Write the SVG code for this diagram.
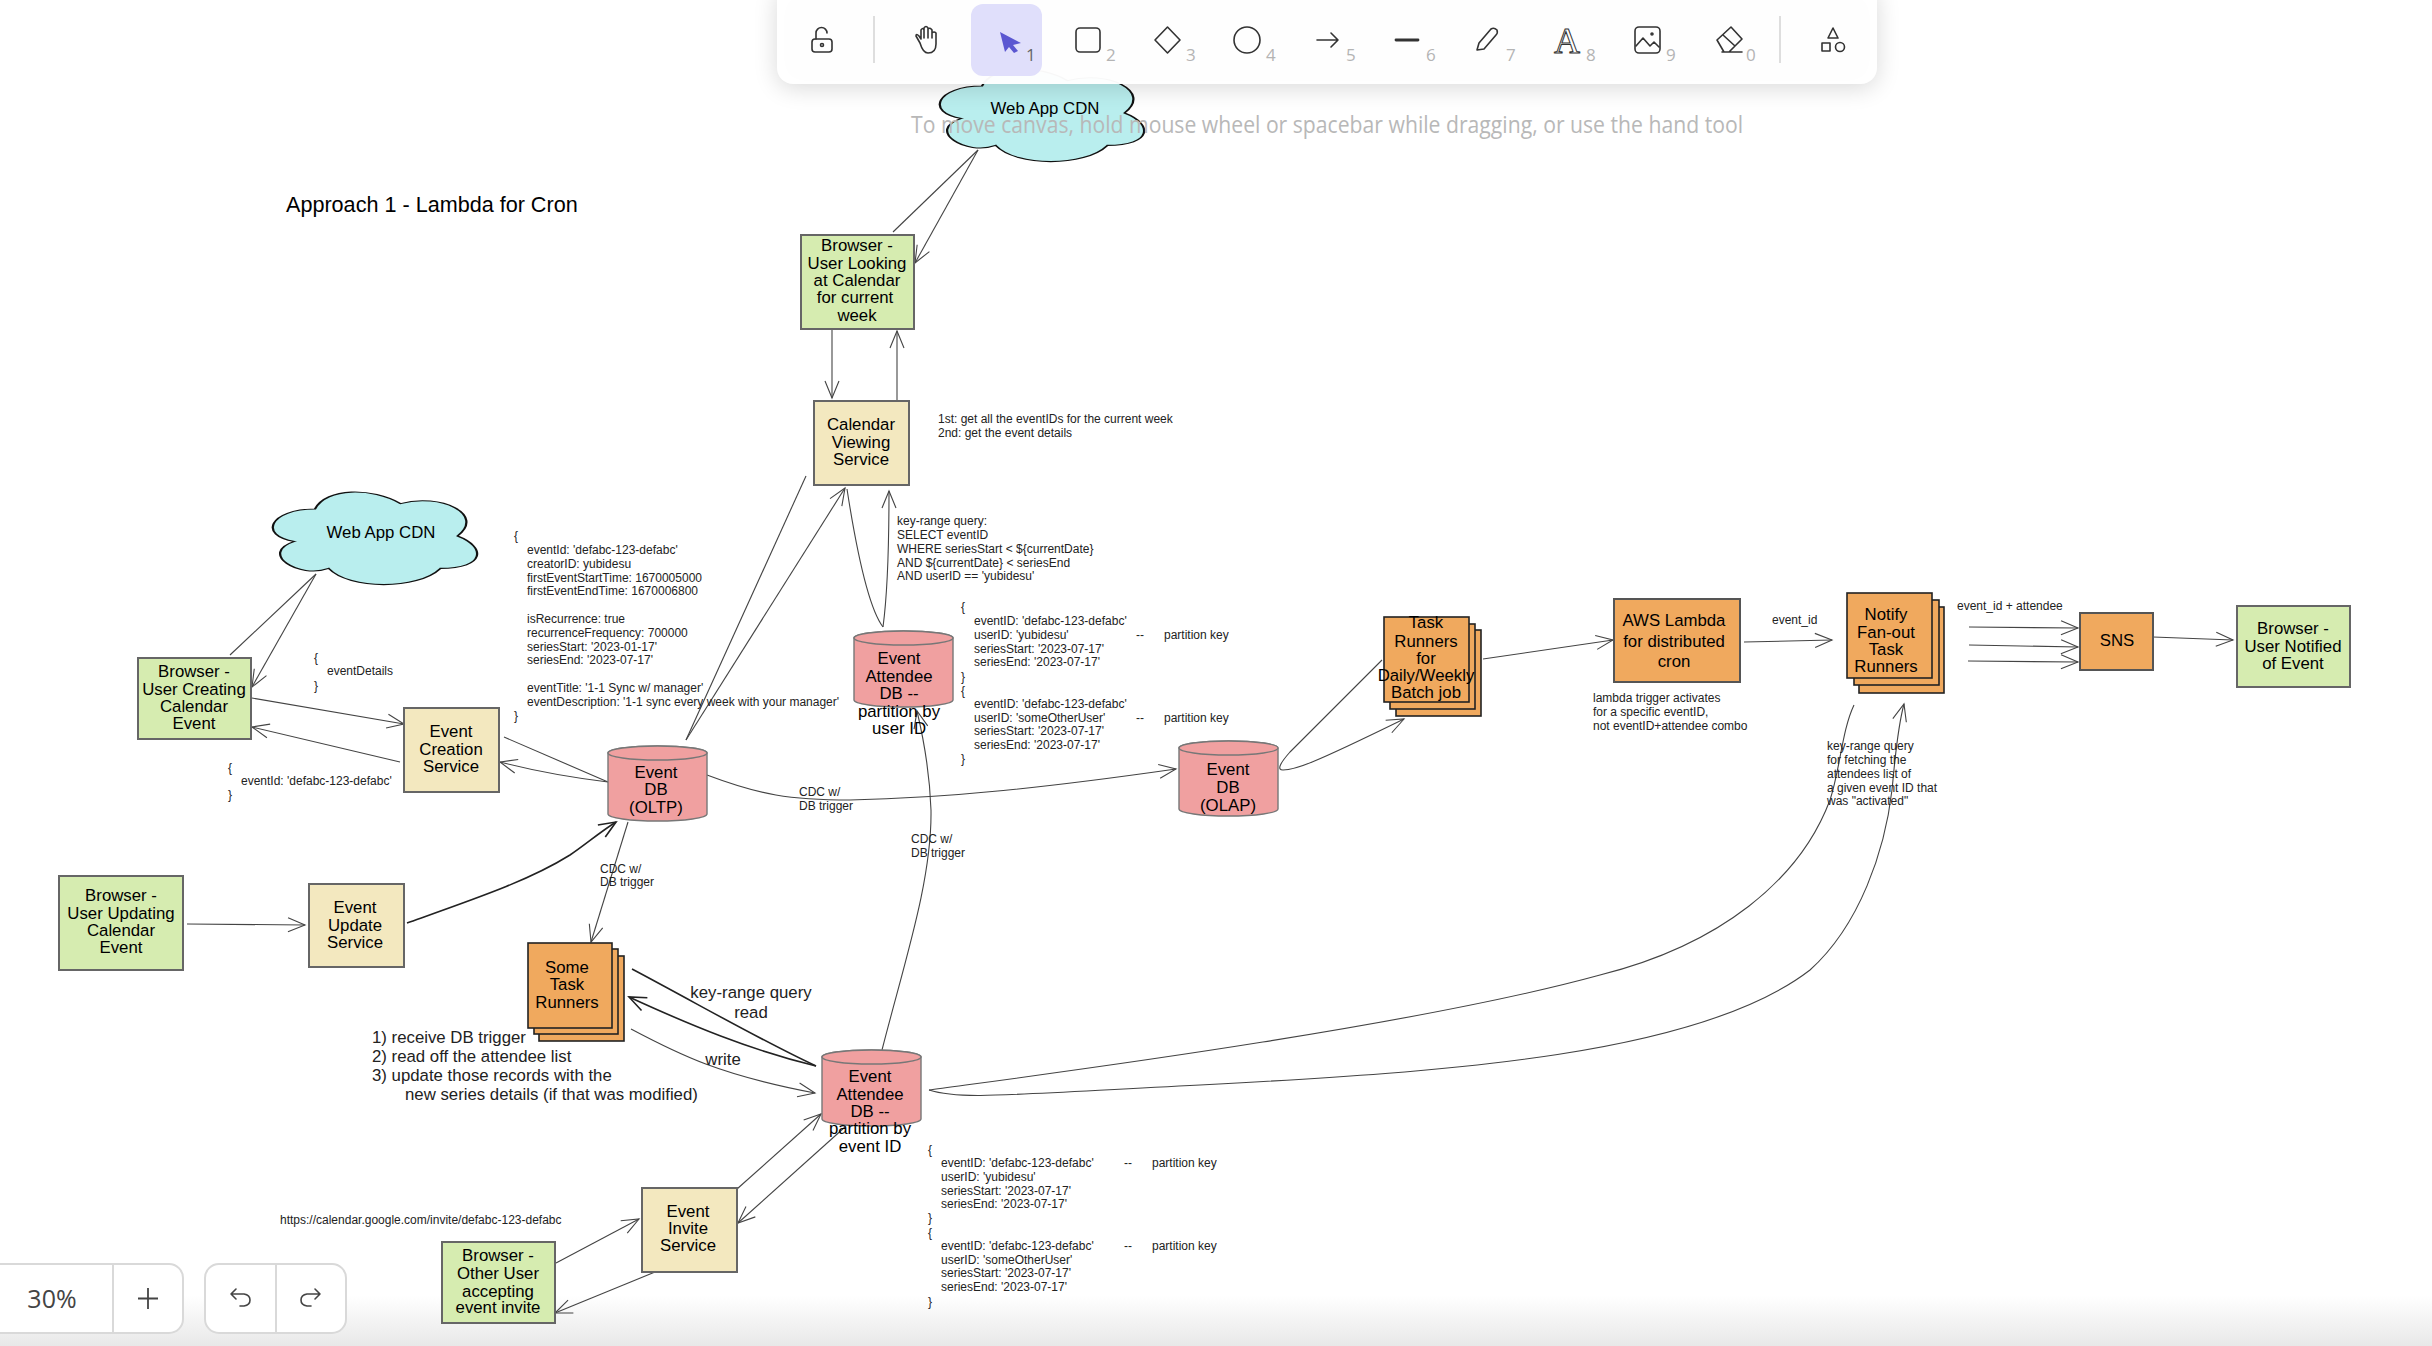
<svg xmlns="http://www.w3.org/2000/svg" width="2432" height="1346" viewBox="0 0 2432 1346">
<style>
text{font-family:"Liberation Sans",Arial,sans-serif}
.n{font-size:16.8px;fill:#000;text-anchor:middle}
.m{font-size:16.8px;fill:#222}
.mc{font-size:16.8px;fill:#222;text-anchor:middle}
.s{font-size:12px;fill:#222}
.g{fill:#d6ecb0;stroke:#666;stroke-width:2}
.c{fill:#f3e8bf;stroke:#666;stroke-width:2}
.o{fill:#f0a95e;stroke:#555;stroke-width:2}
.st{fill:#f0a95e;stroke:#222;stroke-width:1.6}
.p{fill:#f0a0a0;stroke:#777;stroke-width:1.4}
.cl{fill:#b9eeee;stroke:#111;stroke-width:1;vector-effect:non-scaling-stroke}
.l{fill:none;stroke:#444;stroke-width:1.1;marker-end:url(#a)}
.b{fill:none;stroke:#444;stroke-width:1.1}
.t{fill:none;stroke:#222;stroke-width:1.6}
.ic{fill:none;stroke:#333;stroke-width:1.6;stroke-linejoin:round;stroke-linecap:round}
.d{font-family:"Open Sans",sans-serif;font-size:17px;fill:#b4b4b4}
.ui{fill:#fff;stroke:#d9d9d9;stroke-width:2}
</style>
<defs>
<marker id="a" markerUnits="userSpaceOnUse" markerWidth="22" markerHeight="20" refX="18" refY="8" orient="auto"><path d="M1 1 L18 8 L1 15" fill="none" stroke="#444" stroke-width="1.1"/></marker>
<marker id="a2" markerUnits="userSpaceOnUse" markerWidth="22" markerHeight="20" refX="18" refY="8" orient="auto"><path d="M1 1 L18 8 L1 15" fill="none" stroke="#222" stroke-width="1.6"/></marker>
<path id="cloud" d="M25 25C5 25 0 50 16 55C0 66 18 90 31 80C40 100 70 100 80 80C100 80 100 60 87.5 50C100 30 80 10 62.5 20C50 5 30 5 25 25Z"/>
<linearGradient id="fade" x1="0" y1="0" x2="0" y2="1"><stop offset="0" stop-color="#e8e8e8" stop-opacity="0"/><stop offset="1" stop-color="#e8e8e8"/></linearGradient>
<filter id="sh" x="-5%" y="-50%" width="110%" height="220%"><feGaussianBlur stdDeviation="12"/></filter>
</defs>
<rect width="2432" height="1346" fill="#fff"/>
<rect id="bottom-fade" x="0" y="1296" width="2432" height="50" fill="url(#fade)"/>

<g id="title"><text x="286" y="212" font-size="21.6" fill="#000">Approach 1 - Lambda for Cron</text></g>

<g id="connectors">
<path class="b" d="M893 232L978 150"/><path class="l" d="M978 150L915 263"/>
<path class="l" d="M832 329V398"/><path class="l" d="M897 401V331"/>
<path class="b" d="M230 655L316 574"/><path class="l" d="M316 574L252 687"/>
<path class="l" d="M252 698L404 724"/><path class="l" d="M400 762L252 727"/>
<path class="b" d="M504 737L608 782"/><path class="l" d="M608 782Q550 775 500 762"/>
<path class="b" d="M686 740L806 476"/><path class="l" d="M686 740L845 488"/>
<path class="b" d="M847 489C858 560 870 610 883 627"/><path class="l" d="M883 627C888 590 889 540 889 491"/>
<path class="l" d="M707 775C760 795 790 800 850 800C950 798 1050 787 1176 769"/>
<path class="l" d="M882 1050C905 960 932 880 931 810C930 780 925 745 917 711"/>
<path class="l" d="M628 822L591 942"/>
<path class="t" style="marker-end:url(#a2)" d="M407 923C480 897 530 880 570 855C585 845 600 832 616 822"/>
<path class="l" d="M187 924L305 925"/>
<path class="t" d="M632 969C700 1005 760 1040 816 1066"/>
<path class="t" style="marker-end:url(#a2)" d="M816 1066C750 1050 690 1025 629 997"/>
<path class="l" d="M631 1029C680 1055 720 1075 815 1093"/>
<path class="l" d="M556 1263L639 1219"/><path class="l" d="M655 1272L555 1313"/>
<path class="l" d="M737 1189L821 1114"/><path class="l" d="M845 1127L738 1223"/>
<path class="b" d="M929 1090C1000 1080 1400 1030 1600 975C1720 945 1800 880 1830 800C1840 770 1842 730 1854 705"/>
<path class="l" d="M929 1090C960 1100 1000 1095 1200 1085C1450 1072 1700 1055 1810 970C1860 925 1885 850 1892 790C1895 760 1897 730 1904 704"/>
<path class="b" d="M1382 660L1290 752Q1274 770 1283 770"/><path class="l" d="M1283 770C1295 770 1310 765 1404 719"/>
<path class="l" d="M1483 659L1613 640"/><path class="l" d="M1744 642L1832 640"/>
<path class="l" d="M1969 627L2078 628"/><path class="l" d="M1969 645L2078 647"/><path class="l" d="M1968 661L2078 662"/>
<path class="l" d="M2153 637L2233 640"/>
</g>

<g id="cloud-top"><use href="#cloud" class="cl" transform="translate(925 59) scale(2.28 1.08)"/><text x="1045" y="114" class="n">Web App CDN</text></g>
<g id="cloud-left"><use href="#cloud" class="cl" transform="translate(258 482) scale(2.28 1.08)"/><text x="381" y="538" class="n">Web App CDN</text></g>

<g id="browser-looking"><rect class="g" x="801" y="235" width="113" height="94"/><text class="n"><tspan x="857" y="251">Browser -</tspan><tspan x="857" y="269">User Looking</tspan><tspan x="857" y="286">at Calendar</tspan><tspan x="855" y="303">for current</tspan><tspan x="857" y="321">week</tspan></text></g>
<g id="calendar-viewing"><rect class="c" x="814" y="401" width="95" height="84"/><text class="n"><tspan x="861" y="430">Calendar</tspan><tspan x="861" y="448">Viewing</tspan><tspan x="861" y="465">Service</tspan></text></g>
<g id="browser-creating"><rect class="g" x="138" y="658" width="113" height="81"/><text class="n"><tspan x="194" y="677">Browser -</tspan><tspan x="194" y="695">User Creating</tspan><tspan x="194" y="712">Calendar</tspan><tspan x="194" y="729">Event</tspan></text></g>
<g id="event-creation"><rect class="c" x="404" y="708" width="95" height="84"/><text class="n"><tspan x="451" y="737">Event</tspan><tspan x="451" y="755">Creation</tspan><tspan x="451" y="772">Service</tspan></text></g>
<g id="browser-updating"><rect class="g" x="59" y="876" width="124" height="94"/><text class="n"><tspan x="121" y="901">Browser -</tspan><tspan x="121" y="919">User Updating</tspan><tspan x="121" y="936">Calendar</tspan><tspan x="121" y="953">Event</tspan></text></g>
<g id="event-update"><rect class="c" x="309" y="884" width="95" height="83"/><text class="n"><tspan x="355" y="913">Event</tspan><tspan x="355" y="931">Update</tspan><tspan x="355" y="948">Service</tspan></text></g>
<g id="event-db-oltp"><path class="p" d="M608 753V814A49.500 7 0 0 0 707 814V753A49.500 7 0 0 0 608 753Z"/><ellipse class="p" cx="657.500" cy="753" rx="49.500" ry="7"/><text class="n"><tspan x="656" y="778">Event</tspan><tspan x="656" y="795">DB</tspan><tspan x="656" y="813">(OLTP)</tspan></text></g>
<g id="attendee-user"><path class="p" d="M854 638V700A49.500 7 0 0 0 953 700V638A49.500 7 0 0 0 854 638Z"/><ellipse class="p" cx="903.500" cy="638" rx="49.500" ry="7"/><text class="n"><tspan x="899" y="664">Event</tspan><tspan x="899" y="682">Attendee</tspan><tspan x="899" y="699">DB --</tspan><tspan x="899" y="717">partition by</tspan><tspan x="899" y="734">user ID</tspan></text></g>
<g id="event-db-olap"><path class="p" d="M1179 748V809A49.500 7 0 0 0 1278 809V748A49.500 7 0 0 0 1179 748Z"/><ellipse class="p" cx="1228.500" cy="748" rx="49.500" ry="7"/><text class="n"><tspan x="1228" y="775">Event</tspan><tspan x="1228" y="793">DB</tspan><tspan x="1228" y="811">(OLAP)</tspan></text></g>
<g id="attendee-event"><path class="p" d="M822 1057V1119A49.500 7 0 0 0 921 1119V1057A49.500 7 0 0 0 822 1057Z"/><ellipse class="p" cx="871.500" cy="1057" rx="49.500" ry="7"/><text class="n"><tspan x="870" y="1082">Event</tspan><tspan x="870" y="1100">Attendee</tspan><tspan x="870" y="1117">DB --</tspan><tspan x="870" y="1134">partition by</tspan><tspan x="870" y="1152">event ID</tspan></text></g>
<g id="some-task-runners"><rect class="st" x="539" y="956" width="85" height="85"/><rect class="st" x="534" y="949" width="84" height="85"/><rect class="st" x="528" y="943" width="84" height="85"/><text class="n"><tspan x="567" y="973">Some</tspan><tspan x="567" y="990">Task</tspan><tspan x="567" y="1008">Runners</tspan></text></g>
<g id="event-invite"><rect class="c" x="642" y="1188" width="95" height="84"/><text class="n"><tspan x="688" y="1217">Event</tspan><tspan x="688" y="1234">Invite</tspan><tspan x="688" y="1251">Service</tspan></text></g>
<g id="browser-other"><rect class="g" x="442" y="1242" width="113" height="81"/><text class="n"><tspan x="498" y="1261">Browser -</tspan><tspan x="498" y="1279">Other User</tspan><tspan x="498" y="1297">accepting</tspan><tspan x="498" y="1313">event invite</tspan></text></g>
<g id="batch-runners"><rect class="st" x="1396" y="630" width="85" height="86"/><rect class="st" x="1390" y="624" width="85" height="85"/><rect class="st" x="1384" y="617" width="85" height="85"/><text class="n"><tspan x="1426" y="628">Task</tspan><tspan x="1426" y="647">Runners</tspan><tspan x="1426" y="664">for</tspan><tspan x="1426" y="681">Daily/Weekly</tspan><tspan x="1426" y="698">Batch job</tspan></text></g>
<g id="aws-lambda"><rect class="o" x="1614" y="599" width="126" height="83"/><text class="n"><tspan x="1674" y="626">AWS Lambda</tspan><tspan x="1674" y="647">for distributed</tspan><tspan x="1674" y="667">cron</tspan></text></g>
<g id="notify-runners"><rect class="st" x="1859" y="607" width="85" height="86"/><rect class="st" x="1854" y="600" width="85" height="85"/><rect class="st" x="1847" y="593" width="85" height="85"/><text class="n"><tspan x="1886" y="620">Notify</tspan><tspan x="1886" y="638">Fan-out</tspan><tspan x="1886" y="655">Task</tspan><tspan x="1886" y="672">Runners</tspan></text></g>
<g id="sns"><rect class="o" x="2080" y="613" width="73" height="57"/><text class="n" x="2117" y="646">SNS</text></g>
<g id="browser-notified"><rect class="g" x="2237" y="606" width="113" height="81"/><text class="n"><tspan x="2293" y="634">Browser -</tspan><tspan x="2293" y="652">User Notified</tspan><tspan x="2293" y="669">of Event</tspan></text></g>

<g id="labels">
<text class="s"><tspan x="938" y="423">1st: get all the eventIDs for the current week</tspan><tspan x="938" y="437">2nd: get the event details</tspan></text>
<text class="s"><tspan x="897" y="525">key-range query:</tspan><tspan x="897" y="539">SELECT eventID</tspan><tspan x="897" y="553">WHERE seriesStart &lt; ${currentDate}</tspan><tspan x="897" y="567">AND ${currentDate} &lt; seriesEnd</tspan><tspan x="897" y="580">AND userID == 'yubidesu'</tspan></text>
<text class="s"><tspan x="514" y="540">{</tspan><tspan x="527" y="554">eventId: 'defabc-123-defabc'</tspan><tspan x="527" y="568">creatorID: yubidesu</tspan><tspan x="527" y="582">firstEventStartTime: 1670005000</tspan><tspan x="527" y="595">firstEventEndTime: 1670006800</tspan><tspan x="527" y="623">isRecurrence: true</tspan><tspan x="527" y="637">recurrenceFrequency: 700000</tspan><tspan x="527" y="651">seriesStart: '2023-01-17'</tspan><tspan x="527" y="664">seriesEnd: '2023-07-17'</tspan><tspan x="527" y="692">eventTitle: '1-1 Sync w/ manager'</tspan><tspan x="527" y="706">eventDescription: '1-1 sync every week with your manager'</tspan><tspan x="514" y="720">}</tspan></text>
<text class="s"><tspan x="961" y="611">{</tspan><tspan x="974" y="625">eventID: 'defabc-123-defabc'</tspan><tspan x="974" y="639">userID: 'yubidesu'</tspan><tspan x="1136" y="639">--</tspan><tspan x="1164" y="639">partition key</tspan><tspan x="974" y="653">seriesStart: '2023-07-17'</tspan><tspan x="974" y="666">seriesEnd: '2023-07-17'</tspan><tspan x="961" y="681">}</tspan><tspan x="961" y="695">{</tspan><tspan x="974" y="708">eventID: 'defabc-123-defabc'</tspan><tspan x="974" y="722">userID: 'someOtherUser'</tspan><tspan x="1136" y="722">--</tspan><tspan x="1164" y="722">partition key</tspan><tspan x="974" y="735">seriesStart: '2023-07-17'</tspan><tspan x="974" y="749">seriesEnd: '2023-07-17'</tspan><tspan x="961" y="763">}</tspan></text>
<text class="s"><tspan x="928" y="1154">{</tspan><tspan x="941" y="1167">eventID: 'defabc-123-defabc'</tspan><tspan x="1124" y="1167">--</tspan><tspan x="1152" y="1167">partition key</tspan><tspan x="941" y="1181">userID: 'yubidesu'</tspan><tspan x="941" y="1195">seriesStart: '2023-07-17'</tspan><tspan x="941" y="1208">seriesEnd: '2023-07-17'</tspan><tspan x="928" y="1222">}</tspan><tspan x="928" y="1237">{</tspan><tspan x="941" y="1250">eventID: 'defabc-123-defabc'</tspan><tspan x="1124" y="1250">--</tspan><tspan x="1152" y="1250">partition key</tspan><tspan x="941" y="1264">userID: 'someOtherUser'</tspan><tspan x="941" y="1277">seriesStart: '2023-07-17'</tspan><tspan x="941" y="1291">seriesEnd: '2023-07-17'</tspan><tspan x="928" y="1306">}</tspan></text>
<text class="s"><tspan x="314" y="662">{</tspan><tspan x="327" y="675">eventDetails</tspan><tspan x="314" y="690">}</tspan></text>
<text class="s"><tspan x="228" y="772">{</tspan><tspan x="241" y="785">eventId: 'defabc-123-defabc'</tspan><tspan x="228" y="799">}</tspan></text>
<text class="s"><tspan x="799" y="796">CDC w/</tspan><tspan x="799" y="810">DB trigger</tspan></text>
<text class="s"><tspan x="911" y="843">CDC w/</tspan><tspan x="911" y="857">DB trigger</tspan></text>
<text class="s"><tspan x="600" y="873">CDC w/</tspan><tspan x="600" y="886">DB trigger</tspan></text>
<text class="mc"><tspan x="751" y="998">key-range query</tspan><tspan x="751" y="1018">read</tspan></text>
<text class="mc" x="723" y="1065">write</text>
<text class="m"><tspan x="372" y="1043">1) receive DB trigger</tspan><tspan x="372" y="1062">2) read off the attendee list</tspan><tspan x="372" y="1081">3) update those records with the</tspan><tspan x="405" y="1100">new series details (if that was modified)</tspan></text>
<text class="s" x="280" y="1224">https://calendar.google.com/invite/defabc-123-defabc</text>
<text class="s"><tspan x="1593" y="702">lambda trigger activates</tspan><tspan x="1593" y="716">for a specific eventID,</tspan><tspan x="1593" y="730">not eventID+attendee combo</tspan></text>
<text class="s" x="1772" y="624">event_id</text>
<text class="s" x="1957" y="610">event_id + attendee</text>
<text class="s"><tspan x="1827" y="750">key-range query</tspan><tspan x="1827" y="764">for fetching the</tspan><tspan x="1827" y="778">attendees list of</tspan><tspan x="1827" y="792">a given event ID that</tspan><tspan x="1827" y="805">was "activated"</tspan></text>
</g>

<g id="toolbar">
<rect x="777" y="-16" width="1100" height="100" rx="16" fill="#000" opacity=".15" filter="url(#sh)" transform="translate(0 4)"/>
<rect x="777" y="-16" width="1100" height="100" rx="16" fill="#fff" fill-opacity=".97"/>
<rect x="971" y="4" width="71" height="72" rx="12" fill="#e0dffb"/>
<path d="M874 16V63M1780 16V63" stroke="#d4d4d4" stroke-width="1.5"/>
<g class="ic">
<rect x="812" y="39" width="20" height="13" rx="3"/><path d="M816 39V33a5.500 5.500 0 0 1 11 0"/><circle cx="822" cy="45" r="1.500"/>
<path d="M920 43L916 36Q916 33 919 36L921 39V30Q923 27 924 30V38V28Q926 25 928 28V38V29Q930 27 932 30V38V33Q934 31 936 33V44Q936 53 928 53Q923 53 920 43Z"/>
<rect x="1076" y="28" width="24" height="24" rx="4"/>
<path d="M1167.500 27L1180 40L1167.500 53L1155 40Z"/>
<circle cx="1247" cy="40" r="13"/>
<path d="M1317 40H1338M1331 33L1338 40L1331 47"/>
<path d="M1396 40H1418" stroke-width="2.800"/>
<path d="M1477 50L1479 43L1491 29Q1494 27 1497 30Q1498 33 1496 35L1484 49Z"/>
<rect x="1635" y="27" width="25" height="26" rx="4"/><path d="M1636 46L1643 38L1650 46L1654 42L1659 47"/><circle cx="1652" cy="34" r="1"/>
<path d="M1717 40L1731 27L1742 39L1729 52H1724ZM1723 35L1735 46M1722 52H1742"/>
<path d="M1833 28L1838 38H1828ZM1822 43h8v8h-8Z"/><circle cx="1840" cy="47" r="4.500"/>
</g>
<path d="M1000 32L1021 43L1013 45L1018 51L1014 53L1009 47L1005 52Z" fill="#5b57d1"/>
<text x="1567" y="53" font-size="36" text-anchor="middle" style="font-family:'Liberation Serif',serif" fill="#fff" stroke="#333" stroke-width="1">A</text>
<text class="d" y="61"><tspan x="1026" fill="#666">1</tspan><tspan x="1106">2</tspan><tspan x="1186">3</tspan><tspan x="1266">4</tspan><tspan x="1346">5</tspan><tspan x="1426">6</tspan><tspan x="1506">7</tspan><tspan x="1586">8</tspan><tspan x="1666">9</tspan><tspan x="1746">0</tspan></text>
</g>
<g id="hint"><text x="911" y="133" font-size="24" textLength="832" lengthAdjust="spacingAndGlyphs" style="font-family:'Open Sans',sans-serif" fill="#b8b8b8">To move canvas, hold mouse wheel or spacebar while dragging, or use the hand tool</text></g>

<g id="zoom-controls">
<rect class="ui" x="-30" y="1264" width="213" height="69" rx="14"/><path d="M113 1264V1333" stroke="#d9d9d9" stroke-width="2"/>
<text x="52" y="1308" font-size="25" text-anchor="middle" style="font-family:'Open Sans',sans-serif" fill="#444">30%</text>
<path d="M148 1288V1309M138 1298.500H158" stroke="#444" stroke-width="1.800"/>
<rect class="ui" x="205" y="1264" width="141" height="69" rx="14"/><path d="M276 1264V1333" stroke="#d9d9d9" stroke-width="2"/>
<path class="ic" style="stroke:#444" d="M236 1289L231 1294L236 1299M231 1294H244Q250 1295 250 1300Q250 1305 244 1306H240"/>
<path class="ic" style="stroke:#444" d="M315 1289L320 1294L315 1299M320 1294H307Q301 1295 301 1300Q301 1305 307 1306H311"/>
</g>
</svg>
